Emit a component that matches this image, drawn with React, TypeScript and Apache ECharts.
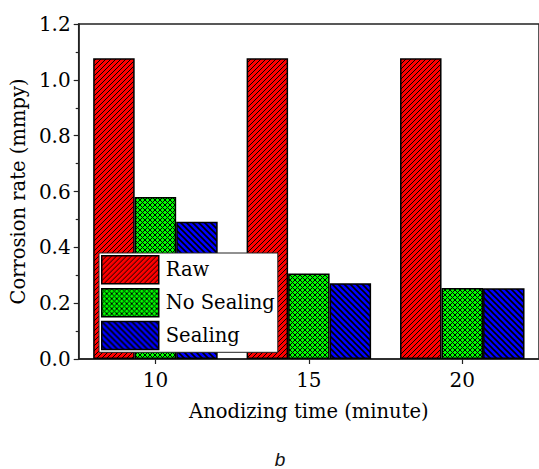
import React, { useEffect, useRef } from "react";
import * as echarts from "echarts";

const categories = ["10", "15", "20"];
const seriesNames = ["Raw", "No Sealing", "Sealing"];
const rawValues = [1.077, 1.077, 1.077];
const noSealingValues = [0.58, 0.306, 0.254];
const sealingValues = [0.492, 0.271, 0.253];
const yMin = 0;
const yMax = 1.2;
const yInterval = 0.2;
const xAxisName = "Anodizing time (minute)";
const yAxisName = "Corrosion rate (mmpy)";
const panelLabel = "b";

const SERIF = "DejaVu Serif";

function makeTile(kind: string): HTMLCanvasElement {
  const c = document.createElement("canvas");
  const ctx = c.getContext("2d")!;
  if (kind === "raw") {
    const s = 5;
    c.width = s;
    c.height = s;
    ctx.fillStyle = "#ff0000";
    ctx.fillRect(0, 0, s, s);
    ctx.strokeStyle = "#000";
    ctx.lineWidth = 1.0;
    ctx.beginPath();
    ctx.moveTo(-1, s + 1);
    ctx.lineTo(s + 1, -1);
    ctx.moveTo(-1, 1);
    ctx.lineTo(1, -1);
    ctx.moveTo(s - 1, s + 1);
    ctx.lineTo(s + 1, s - 1);
    ctx.stroke();
  } else if (kind === "sealing") {
    const s = 6;
    c.width = s;
    c.height = s;
    ctx.fillStyle = "#0000ff";
    ctx.fillRect(0, 0, s, s);
    ctx.strokeStyle = "#000";
    ctx.lineWidth = 1.6;
    ctx.beginPath();
    ctx.moveTo(-1, -1);
    ctx.lineTo(s + 1, s + 1);
    ctx.moveTo(-1, s - 1);
    ctx.lineTo(1, s + 1);
    ctx.moveTo(s - 1, -1);
    ctx.lineTo(s + 1, 1);
    ctx.stroke();
  } else {
    const s = 5;
    c.width = s;
    c.height = s;
    ctx.fillStyle = "#00ff00";
    ctx.fillRect(0, 0, s, s);
    ctx.strokeStyle = "#000";
    ctx.lineWidth = 1.0;
    ctx.beginPath();
    ctx.moveTo(-1, s + 1);
    ctx.lineTo(s + 1, -1);
    ctx.moveTo(-1, 1);
    ctx.lineTo(1, -1);
    ctx.moveTo(s - 1, s + 1);
    ctx.lineTo(s + 1, s - 1);
    ctx.moveTo(-1, -1);
    ctx.lineTo(s + 1, s + 1);
    ctx.moveTo(-1, s - 1);
    ctx.lineTo(1, s + 1);
    ctx.moveTo(s - 1, -1);
    ctx.lineTo(s + 1, 1);
    ctx.stroke();
  }
  return c;
}

export default function App() {
  const ref = useRef<HTMLDivElement>(null);
  useEffect(() => {
    if (!ref.current) return;
    const chart = echarts.init(ref.current, undefined, { renderer: "svg" });
    const patterns = [makeTile("raw"), makeTile("noseal"), makeTile("sealing")];
    const values = [rawValues, noSealingValues, sealingValues];
    const series = seriesNames.map((name, i) => ({
      name,
      type: "bar",
      data: values[i],
      barWidth: 41.5,
      barGap: "0%",
      itemStyle: {
        color: { image: patterns[i], repeat: "repeat" } as any,
        borderColor: "#000",
        borderWidth: 1.5,
      },
    }));
    chart.setOption({
      animation: false,
      backgroundColor: "#fff",
      textStyle: { fontFamily: SERIF },
      grid: {
        left: 76,
        top: 24,
        width: 466.5,
        height: 335,
        show: true,
        borderColor: "#222",
        borderWidth: 1.5,
        backgroundColor: "transparent",
      },
      legend: {
        orient: "vertical",
        left: 99,
        top: 253,
        padding: [2, 3, 2, 2],
        itemWidth: 57,
        itemHeight: 28,
        itemGap: 3.4,
        icon: "rect",
        backgroundColor: "#fff",
        borderColor: "#222",
        borderWidth: 1,
        borderRadius: 0,
        data: seriesNames,
        itemStyle: { borderColor: "#000", borderWidth: 1.5 },
        textStyle: {
          fontFamily: SERIF,
          fontSize: 19.5,
          color: "#000",
          padding: [0, 0, 0, 2],
        },
      },
      xAxis: {
        type: "category",
        data: categories,
        name: xAxisName,
        nameLocation: "middle",
        nameGap: 42,
        nameTextStyle: { fontFamily: SERIF, fontSize: 19.5, color: "#000" },
        axisLine: { show: true, lineStyle: { color: "#222", width: 1.5 } },
        axisTick: { show: true, alignWithLabel: true, length: 5, lineStyle: { color: "#222", width: 1.2 } },
        axisLabel: { fontFamily: SERIF, fontSize: 20, color: "#000", margin: 11 },
        splitLine: { show: false },
      },
      yAxis: {
        type: "value",
        min: yMin,
        max: yMax,
        interval: yInterval,
        name: yAxisName,
        nameLocation: "middle",
        nameGap: 48,
        nameTextStyle: { fontFamily: SERIF, fontSize: 19.5, color: "#000" },
        axisLine: { show: true, lineStyle: { color: "#222", width: 1.5 } },
        axisTick: { show: true, length: 5, lineStyle: { color: "#222", width: 1.2 } },
        minorTick: { show: true, splitNumber: 2, length: 3, lineStyle: { color: "#222", width: 1.2 } },
        axisLabel: {
          fontFamily: SERIF,
          fontSize: 20,
          color: "#000",
          margin: 8,
          formatter: (v: number) => v.toFixed(1),
        },
        splitLine: { show: false },
      },
      graphic: [
        {
          type: "text",
          x: 280,
          y: 459,
          style: {
            text: panelLabel,
            fontFamily: "Liberation Sans",
            fontStyle: "italic",
            fontSize: 19,
            fill: "#111",
            textAlign: "center",
            textVerticalAlign: "middle",
          },
        },
      ],
      series,
    } as any);
    return () => chart.dispose();
  }, []);
  return (
    <div
      ref={ref}
      style={{ position: "absolute", left: 0, top: 0, width: 539, height: 469 }}
    />
  );
}
